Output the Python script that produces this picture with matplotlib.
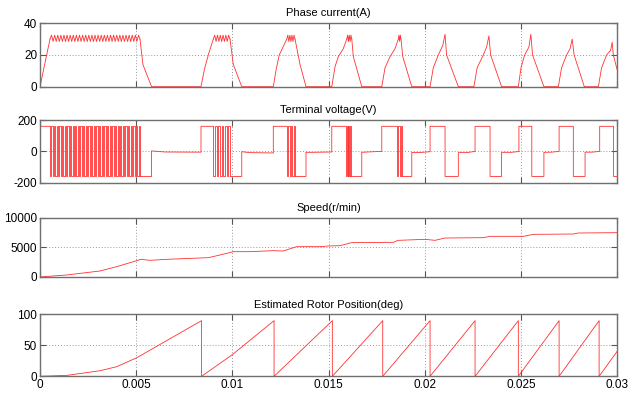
import numpy as np
import matplotlib
matplotlib.use('Agg')
import matplotlib.pyplot as plt

plt.rcParams['font.family'] = ['Liberation Sans Narrow', 'Liberation Sans', 'DejaVu Sans']

# ---------------- data ----------------
t_ticks = [0, 0.005, 0.01, 0.015, 0.02, 0.025, 0.03]
t_tick_labels = ['0', '0.005', '0.01', '0.015', '0.02', '0.025', '0.03']

titles = ['Phase current(A)', 'Terminal voltage(V)', 'Speed(r/min)',
          'Estimated Rotor Position(deg)']
y_ticks = [[0, 20, 40], [-200, 0, 200], [0, 5000, 10000], [0, 50, 100]]
y_tick_labels = [['0', '20', '40'], ['-200', '0', '200'],
                 ['0', '5000', '10000'], ['0', '50', '100']]
y_lims = [(0, 40), (-200, 200), (0, 10000), (0, 100)]

# phase current envelope (nan = chopping window drawn separately)
cur_t = [0, 0.00052, np.nan, 0.0052, 0.00535, 0.0058,
         0.00837, 0.00855, 0.00875, 0.00901, np.nan, 0.00988, 0.01005, 0.01049,
         0.01213, 0.01228, 0.01244, 0.01283, np.nan, 0.01326, 0.01352, 0.01383,
         0.01517, 0.01534, 0.01551, 0.01577, 0.01595, np.nan, 0.01621, 0.01629, 0.01673,
         0.01777, 0.01794, 0.0182, 0.01846, 0.01863, np.nan, 0.01877, 0.01886, 0.01933,
         0.02028, 0.02045, 0.02071, 0.02094, 0.02106, 0.02114, 0.02175,
         0.02256, 0.02273, 0.02305, 0.02322, 0.02334, 0.02343, 0.024,
         0.02487, 0.02501, 0.0252, 0.02542, 0.02552, 0.02561, 0.0262,
         0.02695, 0.02712, 0.02738, 0.02756, 0.02767, 0.02777, 0.0283,
         0.02903, 0.0292, 0.02946, 0.02967, 0.02975, 0.02981, 0.03]
cur_i = [0, 30, np.nan, 30, 14, 0,
         0, 11, 20, 30, np.nan, 30, 14, 0,
         0, 11, 20, 30, np.nan, 30, 14, 0,
         0, 12.6, 19, 24, 30, np.nan, 30, 19, 0,
         0, 12, 19, 24, 30, np.nan, 30, 19, 0,
         0, 12, 20, 26, 33, 20, 0,
         0, 12, 20, 25, 32, 20, 0,
         0, 12, 20, 25, 33, 20, 0,
         0, 12, 20, 24, 30, 20, 0,
         0, 12, 20, 23, 28, 20, 11]
cur_chop_start = [0.00052, 0.00901, 0.01283, 0.01595, 0.01863]
cur_chop_end = [0.0052, 0.00988, 0.01326, 0.01621, 0.01877]
cur_chop_teeth = [29, 6, 4, 3, 2]
cur_chop_lo, cur_chop_hi = 28.5, 32.5

# terminal voltage envelope
volt_t = [0, 0.00052, np.nan,
          0.0052, 0.0058, 0.0058, 0.0065, 0.0083, 0.00837, 0.00837, 0.00901, np.nan,
          0.00988, 0.01049, 0.01049, 0.0109, 0.0121, 0.01213, 0.01213, 0.01283, np.nan,
          0.01326, 0.01383, 0.01383, 0.0142, 0.01517, 0.01517, 0.01591, np.nan,
          0.01615, 0.01673, 0.01673, 0.0172, 0.01777, 0.01777, 0.01858, np.nan,
          0.01881, 0.01933, 0.01933, 0.0198, 0.02028, 0.02028, 0.02106, 0.02106,
          0.02175, 0.02175, 0.0222, 0.02262, 0.02262, 0.0234, 0.0234,
          0.024, 0.024, 0.0245, 0.0249, 0.0249, 0.02557, 0.02557,
          0.0262, 0.0262, 0.0266, 0.02699, 0.02699, 0.02773, 0.02773,
          0.02834, 0.02834, 0.0287, 0.0291, 0.0291, 0.02982, 0.02982, 0.03]
volt_v = [160, 160, np.nan,
          -160, -160, 3, -4, -5, -5, 160, 160, np.nan,
          -160, -160, -2, -8, -10, -10, 160, 160, np.nan,
          -160, -160, -6, -6, -4, 160, 160, np.nan,
          -160, -160, -6, -3, 0, 160, 160, np.nan,
          -160, -160, -7, -7, -2, 160, 160, -160,
          -160, -8, -8, 0, 160, 160, -160,
          -160, -6, -6, -1, 160, 160, -160,
          -160, -6, -5, 0, 160, 160, -160,
          -160, -5, -5, 0, 160, 160, -160, -160]
volt_chop_start = [0.00052, 0.00901, 0.01283, 0.01591, 0.01858]
volt_chop_end = [0.0052, 0.00988, 0.01326, 0.01615, 0.01881]
volt_chop_pulses = [34, 5, 3, 3, 2]
volt_hi, volt_lo = 160, -160

# speed (r/min)
spd_t = [0, 0.00139, 0.00312, 0.00399, 0.00503, 0.00525, 0.00572, 0.00659,
         0.00875, 0.00936, 0.01005, 0.01092, 0.01213, 0.01265, 0.01334, 0.01456,
         0.0150, 0.0156, 0.0162, 0.01837, 0.01863, 0.02002, 0.02054, 0.02106,
         0.02305, 0.0234, 0.02513, 0.02565, 0.02773, 0.028, 0.03]
spd_v = [0, 337, 1011, 1742, 2753, 2978, 2809, 2978,
         3258, 3708, 4270, 4270, 4438, 4382, 5112, 5112,
         5225, 5281, 5787, 5843, 6180, 6348, 6180, 6573,
         6629, 6854, 6854, 7191, 7247, 7416, 7472]

# estimated rotor position (deg)
pos_t = [0, 0.00139, 0.00312, 0.00399, 0.00503, 0.0084, 0.0084, 0.01, 0.01217,
         0.01217, 0.0152, 0.0152, 0.01782, 0.01782, 0.02028, 0.02028, 0.02262,
         0.02262, 0.02487, 0.02487, 0.02699, 0.02699, 0.02907, 0.02907, 0.03]
pos_v = [0, 1.5, 9, 15.6, 30, 90, 0, 35, 90,
         0, 90, 0, 90, 0, 90, 0, 90,
         0, 90, 0, 90, 0, 90, 0, 40]

# ---------------- figure ----------------
RED = '#ff3030'
LW = 0.6
fig = plt.figure(figsize=(6.4, 3.94), dpi=100)
W = 577 / 640
L = 40 / 640
rects = [(L, 0.780, W, 0.161), (L, 0.5363, W, 0.159),
         (L, 0.297, W, 0.1505), (L, 0.0449, W, 0.157)]
axes = [fig.add_axes(r) for r in rects]

for k, ax in enumerate(axes):
    ax.set_xlim(0, 0.03)
    ax.set_ylim(*y_lims[k])
    ax.set_xticks(t_ticks)
    ax.set_yticks(y_ticks[k])
    ax.set_yticklabels(y_tick_labels[k], fontsize=8.5)
    if k == 3:
        ax.set_xticklabels(t_tick_labels, fontsize=8.5)
    else:
        ax.set_xticklabels([])
    ax.tick_params(direction='in', length=4, width=0.8, color='#555555',
                   top=True, right=True, pad=2)
    ax.grid(True, linestyle=(0, (1, 2)), color='#9a9a9a', linewidth=0.7)
    for s in ax.spines.values():
        s.set_color('#707070')
        s.set_linewidth(1.0)
    ax.set_title(titles[k], fontsize=8, pad=5)

# current
ax = axes[0]
ax.plot(cur_t, cur_i, color=RED, lw=LW)
for s, e, n in zip(cur_chop_start, cur_chop_end, cur_chop_teeth):
    tt = np.linspace(s, e, 2 * n + 1)
    vv = [30] + [cur_chop_hi if j % 2 else cur_chop_lo for j in range(1, 2 * n)] + [30]
    ax.plot(tt, vv, color=RED, lw=LW)

# voltage
ax = axes[1]
ax.plot(volt_t, volt_v, color=RED, lw=LW)
for s, e, n in zip(volt_chop_start, volt_chop_end, volt_chop_pulses):
    sw = np.linspace(s, e, 2 * n + 1)
    tt, vv = [s], [volt_hi]
    level = volt_hi
    for ts in sw:
        tt.append(ts); vv.append(level)
        level = volt_lo if level == volt_hi else volt_hi
        tt.append(ts); vv.append(level)
    ax.plot(tt, vv, color=RED, lw=LW)

axes[2].plot(spd_t, spd_v, color=RED, lw=LW)
axes[3].plot(pos_t, pos_v, color=RED, lw=LW)

fig.savefig('out.png', dpi=100, facecolor='white')
